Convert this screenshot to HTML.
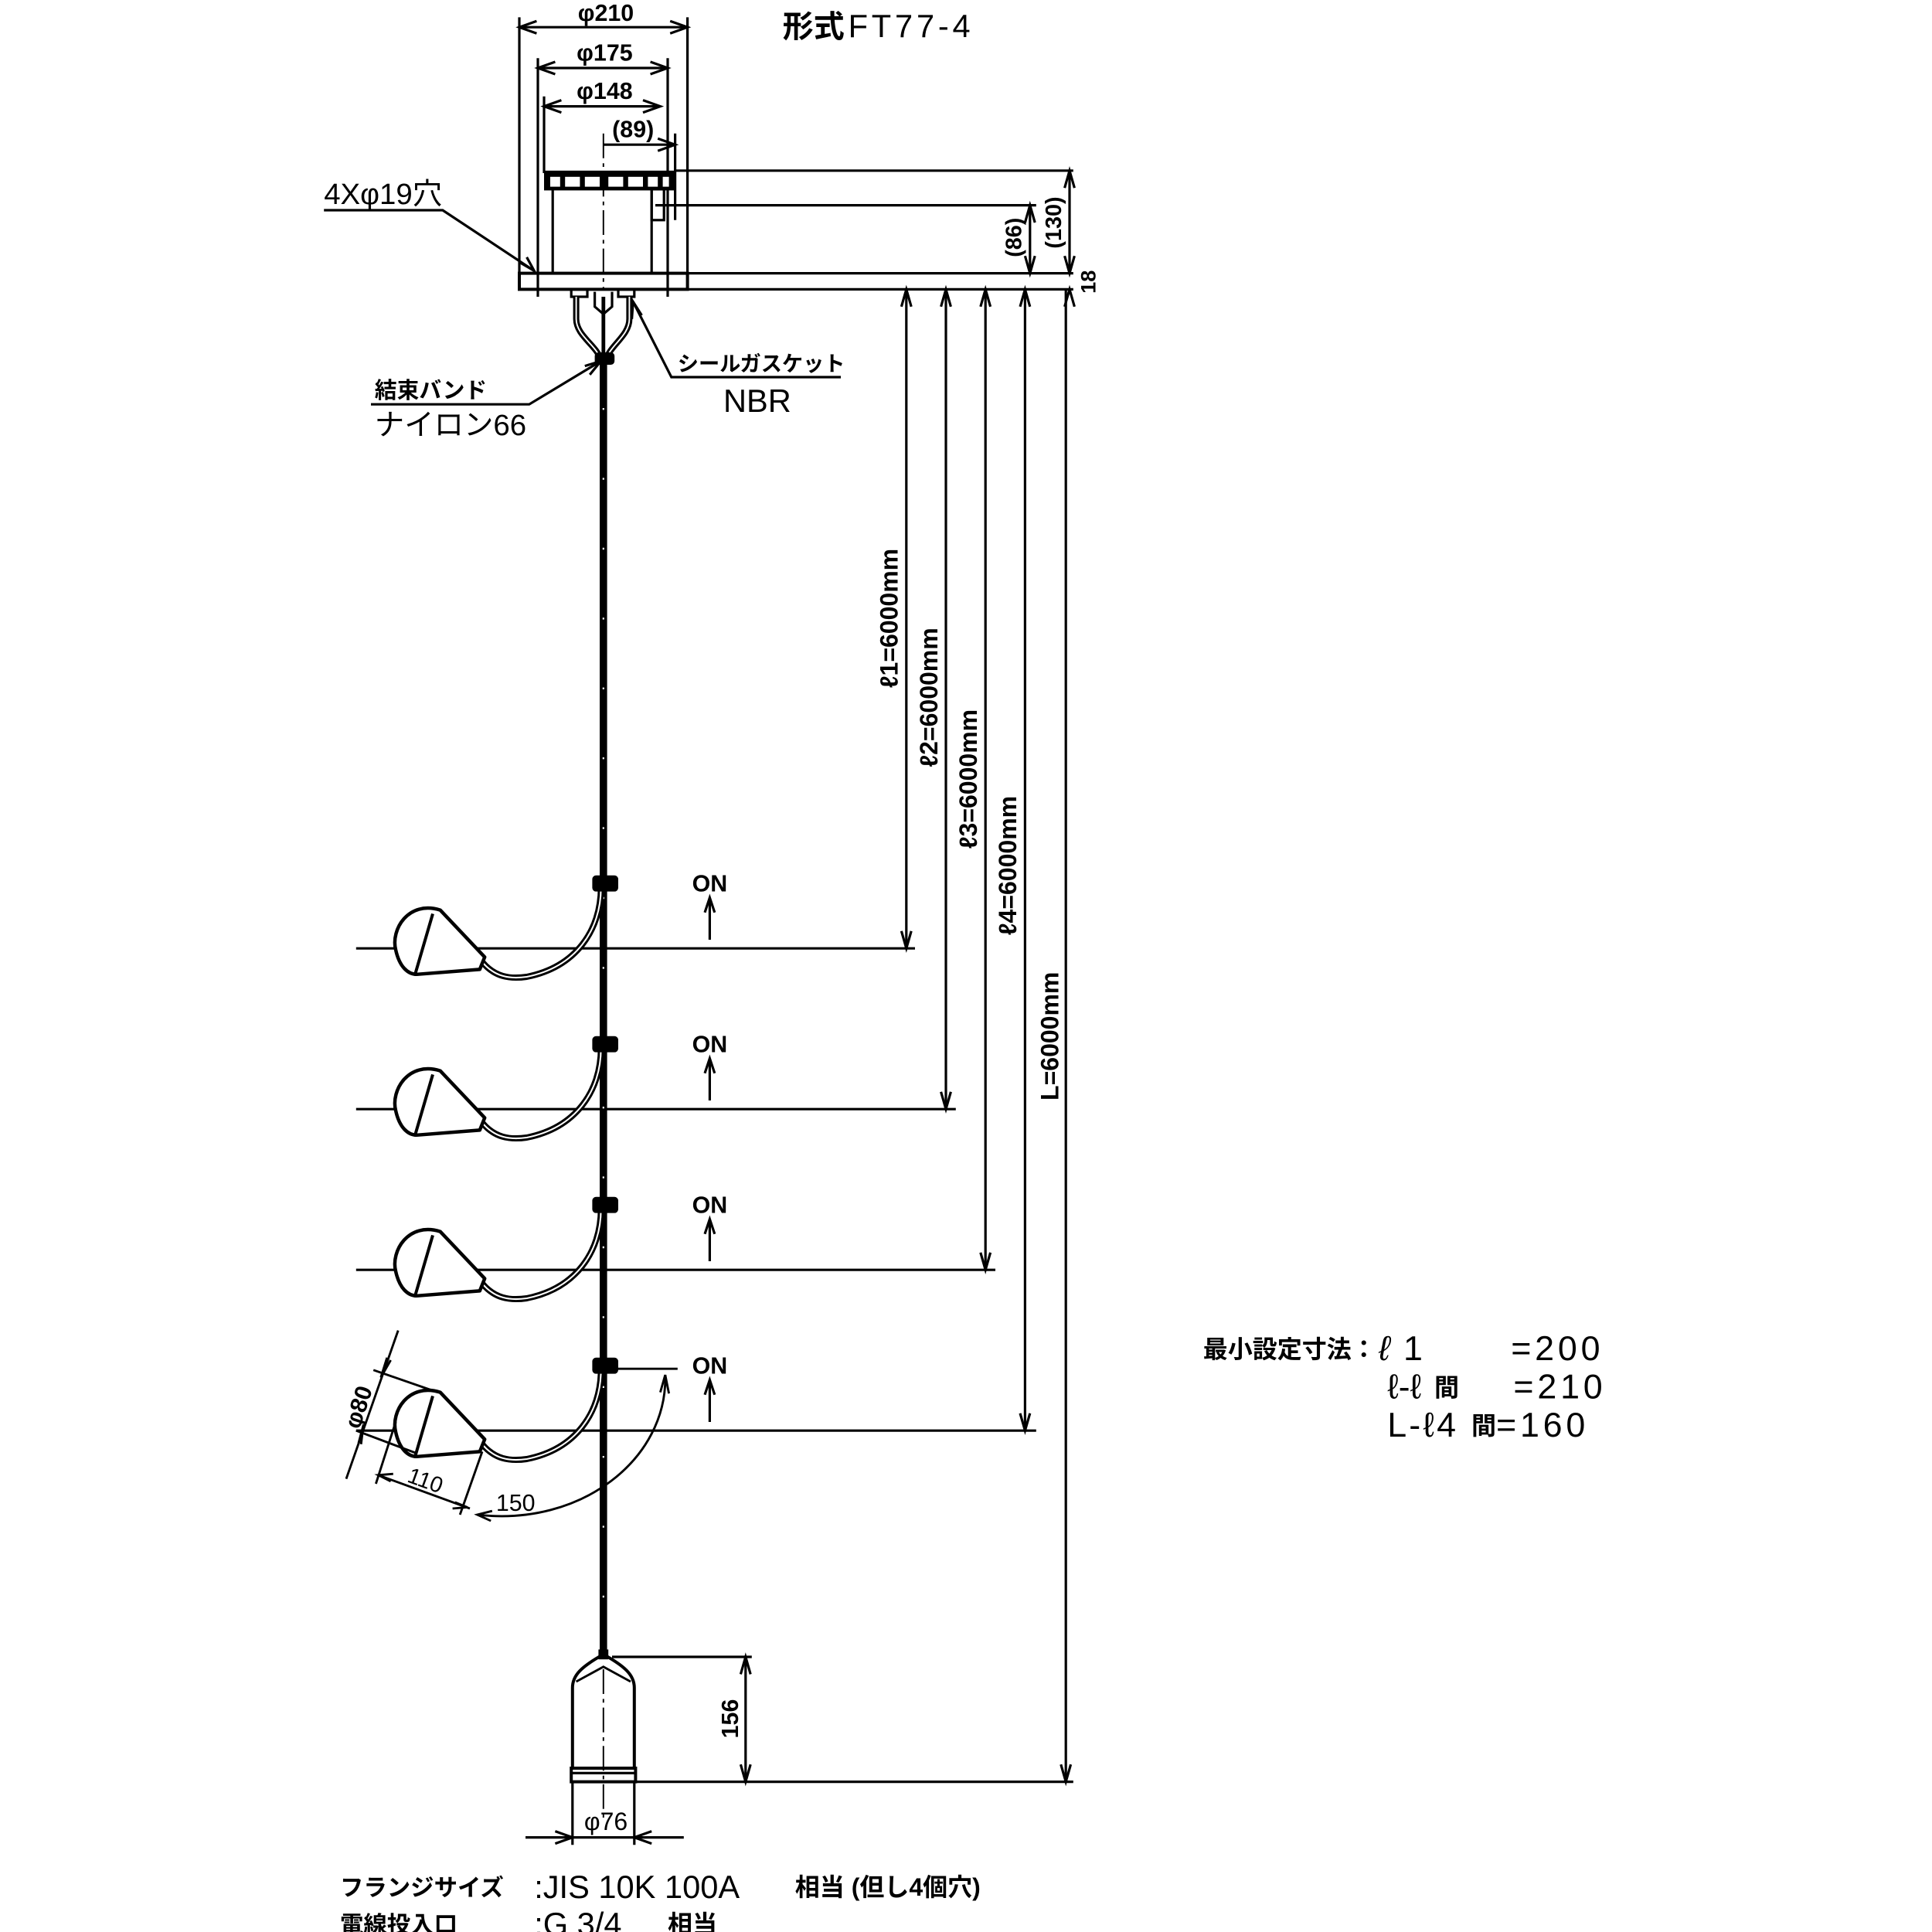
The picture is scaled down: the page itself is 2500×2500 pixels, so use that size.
<!DOCTYPE html>
<html><head><meta charset="utf-8"><style>
html,body{margin:0;padding:0;background:#fff;}
svg{display:block;}
text{font-family:"Liberation Sans","Noto Sans CJK JP",sans-serif;fill:#000;}
</style></head><body>
<svg width="2500" height="2500" viewBox="0 0 1562.5 1562.5" xmlns="http://www.w3.org/2000/svg">
<text x="633" y="30" font-size="25" font-weight="bold">形式</text>
<text x="686" y="30" font-size="26" letter-spacing="3">FT77-4</text>

<g stroke="#000" stroke-width="2" fill="none">
<line x1="420" y1="14" x2="420" y2="234"/>
<line x1="556" y1="14" x2="556" y2="234"/>
<line x1="435" y1="47" x2="435" y2="240"/>
<line x1="540" y1="47" x2="540" y2="240"/>
<line x1="440" y1="78" x2="440" y2="140"/>
<line x1="546" y1="108" x2="546" y2="178"/>
<line x1="420" y1="22" x2="556" y2="22"/>
<path d="M434,17 L420,22 L434,27 M542,17 L556,22 L542,27"/>
<line x1="435" y1="55" x2="540" y2="55"/>
<path d="M449,50 L435,55 L449,60 M526,50 L540,55 L526,60"/>
<line x1="440" y1="86" x2="534" y2="86"/>
<path d="M454,81 L440,86 L454,91 M520,81 L534,86 L520,91"/>
<line x1="488" y1="117" x2="546" y2="117"/>
<path d="M532,112 L546,117 L532,122"/>
<rect x="420" y="221" width="136" height="13" stroke-width="2.5"/>
<line x1="447" y1="153" x2="447" y2="221"/>
<line x1="527" y1="153" x2="527" y2="221"/>
<rect x="527" y="153" width="10" height="25"/>
<line x1="545" y1="138" x2="868" y2="138"/>
<line x1="530" y1="166" x2="838" y2="166"/>
<line x1="556" y1="221" x2="868" y2="221"/>
<line x1="556" y1="234" x2="868" y2="234"/>
<line x1="488" y1="108" x2="488" y2="234" stroke-width="1.2" stroke-dasharray="20,4,3,4"/>
<line x1="833" y1="166" x2="833" y2="221"/>
<path d="M829,180 L833,166 L837,180 M829,207 L833,221 L837,207"/>
<line x1="865" y1="138" x2="865" y2="221"/>
<path d="M861,152 L865,138 L869,152 M861,207 L865,221 L869,207"/>
<path d="M861,248 L865,234 L869,248"/>
<line x1="733" y1="234" x2="733" y2="767"/>
<path d="M729,248 L733,234 L737,248 M729,753 L733,767 L737,753"/>
<line x1="765" y1="234" x2="765" y2="897"/>
<path d="M761,248 L765,234 L769,248 M761,883 L765,897 L769,883"/>
<line x1="797" y1="234" x2="797" y2="1027"/>
<path d="M793,248 L797,234 L801,248 M793,1013 L797,1027 L801,1013"/>
<line x1="829" y1="234" x2="829" y2="1157"/>
<path d="M825,248 L829,234 L833,248 M825,1143 L829,1157 L833,1143"/>
<line x1="862" y1="234" x2="862" y2="1441"/>
<path d="M858,1427 L862,1441 L866,1427"/>
<line x1="288" y1="767" x2="740" y2="767"/>
<line x1="288" y1="897" x2="773" y2="897"/>
<line x1="288" y1="1027" x2="805" y2="1027"/>
<line x1="288" y1="1157" x2="838" y2="1157"/>
<line x1="574" y1="760" x2="574" y2="726"/><path d="M570,738 L574,726 L578,738"/>
<line x1="574" y1="890" x2="574" y2="856"/><path d="M570,868 L574,856 L578,868"/>
<line x1="574" y1="1020" x2="574" y2="986"/><path d="M570,998 L574,986 L578,998"/>
<line x1="574" y1="1150" x2="574" y2="1116"/><path d="M570,1128 L574,1116 L578,1128"/>
</g>
<!-- top ring with windows -->
<rect x="440" y="138" width="105" height="16" fill="#000"/>
<g fill="#fff">
<rect x="445" y="143" width="8" height="8"/>
<rect x="457" y="143" width="12" height="8"/>
<rect x="473" y="143" width="12" height="8"/>
<rect x="492" y="143" width="12" height="8"/>
<rect x="508" y="143" width="12" height="8"/>
<rect x="524" y="143" width="8" height="8"/>
<rect x="536" y="143" width="5" height="8"/>
</g>

<g stroke="#000" stroke-width="2" fill="none">
<rect x="462" y="234" width="13" height="6"/>
<rect x="500" y="234" width="13" height="6"/>
<path d="M466,240 L466,258 C466,272 484,280 486,292" stroke-width="5"/>
<path d="M466,240 L466,258 C466,272 484,280 486,292" stroke="#fff" stroke-width="1.2"/>
<path d="M509,240 L509,258 C509,272 492,280 490,292" stroke-width="5"/>
<path d="M509,240 L509,258 C509,272 492,280 490,292" stroke="#fff" stroke-width="1.2"/>
<path d="M481,236 L481,248 L488,254 L495,248 L495,236"/>
<line x1="488" y1="240" x2="488" y2="292" stroke-width="3"/>
<rect x="482" y="286" width="14" height="8" rx="2" fill="#000"/>
</g>
<line x1="488" y1="292" x2="488" y2="1338" stroke="#000" stroke-width="6"/>
<line x1="488" y1="330" x2="488" y2="1330" stroke="#fff" stroke-width="1.3" stroke-dasharray="1.5,55"/>

<defs>
<g id="fl">
<path d="M390,778 C400,790 412,792 426,790 C466,782 486,752 486,718" stroke="#000" stroke-width="5" fill="none"/>
<path d="M390,778 C400,790 412,792 426,790 C466,782 486,752 486,718" stroke="#fff" stroke-width="1.3" fill="none"/>
<path d="M356,736 C330,728 316,752 320,768 C323,782 330,788 337,788 L388,784 L392,774 Z" stroke="#000" stroke-width="2.8" fill="#fff" stroke-linejoin="round"/>
<line x1="350" y1="739" x2="336" y2="787" stroke="#000" stroke-width="2.5"/>
<rect x="479" y="708" width="21" height="13" rx="3" fill="#000"/>
</g>
</defs>
<use href="#fl"/>
<use href="#fl" transform="translate(0,130)"/>
<use href="#fl" transform="translate(0,260)"/>
<use href="#fl" transform="translate(0,390)"/>

<g stroke="#000" stroke-width="1.8" fill="none">
<line x1="302" y1="1108" x2="354" y2="1126"/>
<line x1="288" y1="1157" x2="336" y2="1175"/>
<line x1="322" y1="1076" x2="280" y2="1196"/>
<path d="M313,1098 L308,1114 L316,1100 M290,1167 L294,1152 L292,1168"/>
<line x1="304" y1="1200" x2="320" y2="1150"/>
<line x1="372" y1="1225" x2="390" y2="1174"/>
<line x1="306" y1="1193" x2="380" y2="1220"/>
<path d="M318,1192 L306,1193 L316,1198 M368,1215 L378,1219 L366,1220"/>
<line x1="490" y1="1107" x2="548" y2="1107"/>
<path d="M538,1112 C540,1180 470,1235 386,1225"/>
<path d="M534,1126 L538,1112 L541,1127 M398,1222 L386,1225 L397,1230"/>
</g>
<text transform="translate(296,1140) rotate(-72)" font-size="19" font-weight="bold" text-anchor="middle">φ80</text>
<text transform="translate(342,1203) rotate(20)" font-size="18" text-anchor="middle">110</text>
<text x="417" y="1222" font-size="19" text-anchor="middle">150</text>

<g stroke="#000" stroke-width="2.5" fill="none">
<path d="M463,1430 L463,1365 C463,1355 470,1348 488,1338 C506,1348 513,1355 513,1365 L513,1430"/>
<path d="M466,1360 L488,1348 L510,1360" stroke-width="1.8"/>
<rect x="462" y="1430" width="52" height="11"/>
<line x1="463" y1="1434" x2="513" y2="1434" stroke-width="2"/>
<line x1="488" y1="1350" x2="488" y2="1470" stroke-width="1.2" stroke-dasharray="20,4,3,4"/>
<line x1="495" y1="1340" x2="608" y2="1340" stroke-width="2"/>
<line x1="513" y1="1441" x2="868" y2="1441" stroke-width="2"/>
<line x1="603" y1="1340" x2="603" y2="1441" stroke-width="2"/>
<path d="M599,1354 L603,1340 L607,1354 M599,1427 L603,1441 L607,1427" stroke-width="2"/>
<line x1="463" y1="1441" x2="463" y2="1492" stroke-width="2"/>
<line x1="513" y1="1441" x2="513" y2="1492" stroke-width="2"/>
<line x1="425" y1="1486" x2="553" y2="1486" stroke-width="2"/>
<path d="M449,1481 L463,1486 L449,1491 M527,1481 L513,1486 L527,1491" stroke-width="2"/>
</g>
<rect x="484" y="1334" width="8" height="8" fill="#000"/>
<text transform="translate(597,1390) rotate(-90)" font-size="19" font-weight="bold" text-anchor="middle">156</text>
<text x="490" y="1480" font-size="20" text-anchor="middle">φ76</text>

<text x="490" y="17" font-size="19" font-weight="bold" text-anchor="middle">φ210</text>
<text x="489" y="49" font-size="19" font-weight="bold" text-anchor="middle">φ175</text>
<text x="489" y="80" font-size="19" font-weight="bold" text-anchor="middle">φ148</text>
<text x="512" y="111" font-size="19" font-weight="bold" text-anchor="middle">(89)</text>
<text transform="translate(826,192) rotate(-90)" font-size="18" font-weight="bold" text-anchor="middle">(86)</text>
<text transform="translate(858,180) rotate(-90)" font-size="18" font-weight="bold" text-anchor="middle">(130)</text>
<text transform="translate(886,228) rotate(-90)" font-size="17" font-weight="bold" text-anchor="middle">18</text>

<g font-size="20" font-weight="bold" text-anchor="middle">
<text transform="translate(726,500) rotate(-90)">ℓ1=6000mm</text>
<text transform="translate(758,564) rotate(-90)">ℓ2=6000mm</text>
<text transform="translate(790,630) rotate(-90)">ℓ3=6000mm</text>
<text transform="translate(822,700) rotate(-90)">ℓ4=6000mm</text>
<text transform="translate(856,838) rotate(-90)">L=6000mm</text>
</g>

<g font-size="19" font-weight="bold" text-anchor="middle">
<text x="574" y="721">ON</text>
<text x="574" y="851">ON</text>
<text x="574" y="981">ON</text>
<text x="574" y="1111">ON</text>
</g>

<g stroke="#000" stroke-width="2" fill="none">
<path d="M262,170 L358,170 L432,219"/>
<path d="M420,212 L432,219 L426,208"/>
<path d="M300,327 L428,327 L486,292"/>
<path d="M473,296 L486,292 L477,303"/>
<path d="M680,305 L543,305 L512,244"/>
<path d="M511,258 L512,244 L519,255"/>
</g>
<text x="262" y="165" font-size="24">4Xφ19穴</text>
<text x="303" y="322" font-size="18" font-weight="bold">結束バンド</text>
<text x="303" y="352" font-size="24">ナイロン66</text>
<text x="548" y="300" font-size="17" font-weight="bold">シールガスケット</text>
<text x="585" y="333" font-size="26">NBR</text>

<text x="973" y="1098" font-size="20" font-weight="bold">最小設定寸法：</text>
<text x="1115" y="1100" font-size="28" font-style="italic">ℓ</text>
<text x="1135" y="1100" font-size="28">1</text>
<text x="1222" y="1100" font-size="28" letter-spacing="3">=200</text>
<text x="1122" y="1131" font-size="28">ℓ-ℓ</text>
<text x="1160" y="1129" font-size="20" font-weight="bold">間</text>
<text x="1224" y="1131" font-size="28" letter-spacing="3">=210</text>
<text x="1122" y="1162" font-size="28" letter-spacing="2">L-ℓ4</text>
<text x="1190" y="1160" font-size="20" font-weight="bold">間</text>
<text x="1210" y="1162" font-size="28" letter-spacing="3">=160</text>

<text x="275" y="1533" font-size="19" font-weight="bold">フランジサイズ</text>
<text x="432" y="1535" font-size="26">:JIS 10K 100A</text>
<text x="643" y="1533" font-size="20" font-weight="bold">相当 (但し4個穴)</text>
<text x="275" y="1563" font-size="19" font-weight="bold">電線投入口</text>
<text x="432" y="1565" font-size="26">:G 3/4</text>
<text x="540" y="1563" font-size="20" font-weight="bold">相当</text>
</svg>
</body></html>
